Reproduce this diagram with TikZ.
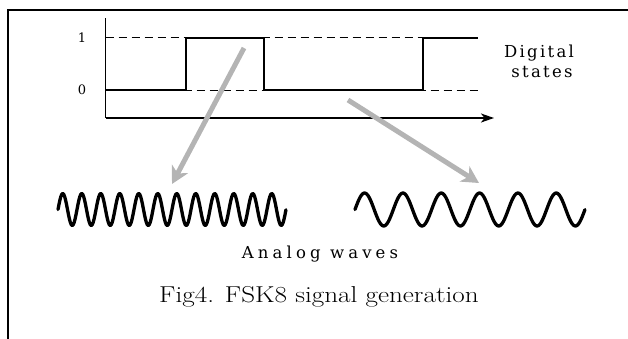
\documentclass[tikz,border=0pt]{standalone}
\usepackage{fontspec}
\newfontfamily\labfont[LetterSpace=14]{DejaVu Serif}
\newfontfamily\wavefont[LetterSpace=25]{DejaVu Serif}
\newfontfamily\numfont{DejaVu Serif}
\usetikzlibrary{arrows.meta}
\definecolor{arrowgray}{RGB}{180,180,180}
\tikzset{
  frameline/.style={line width=2pt, line cap=rect},
  axisline/.style={line width=1.4pt},
  levelline/.style={line width=0.9pt, dash pattern=on 8pt off 5pt},
  signalline/.style={line width=2pt, line join=miter},
  mapping/.style={line width=5pt, draw=arrowgray,
    -{Stealth[length=17pt, width=18pt, inset=5pt]}},
  wave/.style={line width=3.3pt, line join=round, line cap=round},
  lab/.style={inner sep=0pt, anchor=base, font=\labfont\fontsize{16.5}{19}\selectfont},
  wavelab/.style={inner sep=0pt, anchor=base, font=\wavefont\fontsize{16.5}{19}\selectfont},
  levlab/.style={inner sep=0pt, font=\numfont\fontsize{13}{15}\selectfont},
  caption/.style={inner sep=0pt, anchor=base, font=\fontsize{23}{27}\selectfont}
}
\begin{document}
\begin{tikzpicture}[x=1pt, y=-1pt]
\useasboundingbox (0,0) rectangle (628,338);
% frame
\coordinate (fbl) at (8,338);
\coordinate (ftl) at (8,10);
\coordinate (ftr) at (628,10);
\draw[frameline] (fbl) -- (ftl) -- (ftr);
% axes
\coordinate (ytop) at (105.7,18);
\coordinate (orig) at (105.7,118);
\coordinate (xend) at (494,118);
\draw[axisline] (ytop) -- (orig);
\draw[axisline, -{Stealth[length=13pt, width=9pt, inset=3.5pt]}] (orig) -- (xend);
% level lines
\coordinate (l1a) at (105.7,37.7);
\coordinate (l1b) at (478,37.7);
\coordinate (l0a) at (105.7,90);
\coordinate (l0b) at (478,90);
\draw[levelline] (l1a) -- (l1b);
\draw[levelline] (l0a) -- (l0b);
\node[levlab] (one) at (82,37.7) {1};
\node[levlab] (zero) at (82,90) {0};
% digital signal
\coordinate (s0) at (105.7,90);
\coordinate (s1) at (185.7,90);
\coordinate (s2) at (185.7,37.7);
\coordinate (s3) at (264,37.7);
\coordinate (s4) at (264,90);
\coordinate (s5) at (423,90);
\coordinate (s6) at (423,37.7);
\coordinate (s7) at (478,37.7);
\draw[signalline] (s0) -- (s1) -- (s2) -- (s3) -- (s4) -- (s5) -- (s6) -- (s7);
% labels
\node[lab] (dig) at (539,57.7) {Digital};
\node[lab] (sta) at (542,77.7) {states};
\node[wavelab] (ana) at (320,258) {Analog waves};
\node[caption] (cap) at (319,302) {\scalebox{1.18}[1]{Fig4. FSK8 signal generation}};
% mapping arrows
\coordinate (m1s) at (244,48);
\coordinate (m1e) at (172,184);
\coordinate (m2s) at (348,100);
\coordinate (m2e) at (479,183);
\draw[mapping] (m1s) -- (m1e);
\draw[mapping] (m2s) -- (m2e);
% analog waves
\draw[wave] plot[variable=\t, domain=0:12, samples=241] ({58+19*\t}, {209.5-16*sin(360*\t)});
\draw[wave] plot[variable=\t, domain=0:6, samples=181] ({355+38.33*\t}, {209.5-16.5*sin(360*\t)});
\end{tikzpicture}
\end{document}
